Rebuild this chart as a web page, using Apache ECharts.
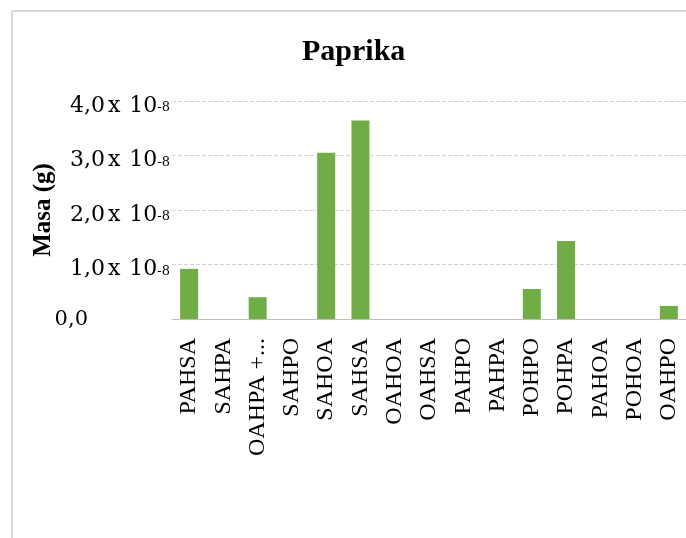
<!DOCTYPE html>
<html>
<head>
<meta charset="utf-8">
<script src="https://cdn.jsdelivr.net/npm/echarts@6/dist/echarts.min.js"></script>
<title>Paprika</title>
<style>
	html, body { margin: 0; padding: 0; background: #fff; }
	#c { width: 686px; height: 538px; }
</style>
</head>
<body>
<div id="c"></div>
<script>
	var categories = ['PAHSA', 'SAHPA', 'OAHPA +...', 'SAHPO', 'SAHOA', 'SAHSA', 'OAHOA', 'OAHSA', 'PAHPO', 'PAHPA', 'POHPO', 'POHPA', 'PAHOA', 'POHOA', 'OAHPO'];
	// masa in units of 1e-8 g
	var masa = [0.92, 0, 0.40, 0, 3.05, 3.64, 0, 0, 0, 0, 0.55, 1.43, 0, 0, 0.24];
	var yTicks = [0, 1, 2, 3, 4];

	var myChart = echarts.init(document.getElementById('c'));
	var option = {
		backgroundColor: '#fff',
		title: {
			text: 'Paprika',
			left: 297,
			top: 32,
			textStyle: { fontFamily: 'Liberation Serif', fontSize: 30, fontWeight: 'bold', color: '#000' }
		},
		graphic: [
			{ type: 'line', shape: { x1: 12, y1: 11, x2: 12, y2: 538 }, style: { stroke: '#d9d9d9', lineWidth: 2 } },
			{ type: 'line', shape: { x1: 12, y1: 11, x2: 686, y2: 11 }, style: { stroke: '#d9d9d9', lineWidth: 2 } }
		],
		grid: { left: 172, right: -2, top: 101, bottom: 219 },
		xAxis: {
			type: 'category',
			data: categories,
			axisLine: { lineStyle: { color: '#bfbfbf', width: 1 } },
			axisTick: { inside: true, length: 6, lineStyle: { color: '#bfbfbf' } },
			axisLabel: {
				rotate: 90,
				margin: 19,
				interval: 0,
				fontFamily: 'Liberation Serif',
				fontSize: 24,
				color: '#000'
			}
		},
		yAxis: {
			type: 'value',
			min: 0,
			max: 4,
			interval: 1,
			name: 'Masa (g)',
			nameLocation: 'middle',
			nameGap: 116,
			nameMoveOverlap: false,
			nameTextStyle: { fontFamily: 'Liberation Serif', fontSize: 25, fontWeight: 'bold', color: '#000' },
			axisLine: { show: false },
			axisTick: { show: false },
			splitLine: { lineStyle: { color: '#d3d3d3', type: 'dashed', width: 1 } },
			axisLabel: {
				margin: 2,
				color: '#000',
				formatter: function (v) {
					if (yTicks.indexOf(v) < 0) return '';
					if (v === 0) return '{z|0,0}';
					return '{a|' + v + ',0}{x|x}{t|10}{b|-8}';
				},
				rich: {
					a: { fontFamily: 'DejaVu Serif', fontSize: 22, color: '#000', padding: [10, 0, 0, 0] },
					x: { fontFamily: 'DejaVu Serif', fontSize: 22, color: '#000', padding: [10, 0, 0, 3] },
					t: { fontFamily: 'DejaVu Serif', fontSize: 22, color: '#000', padding: [10, 0, 0, 9] },
					b: { fontFamily: 'DejaVu Serif', fontSize: 13, color: '#000', padding: [14, 0, 0, 0] },
					z: { fontFamily: 'DejaVu Serif', fontSize: 21, color: '#000', padding: [2, 82, 0, 0] }
				}
			}
		},
		series: [
			{
				type: 'bar',
				data: masa,
				barWidth: 18,
				itemStyle: { color: '#70ad47' }
			}
		]
	};
	myChart.setOption(option);
</script>
</body>
</html>
